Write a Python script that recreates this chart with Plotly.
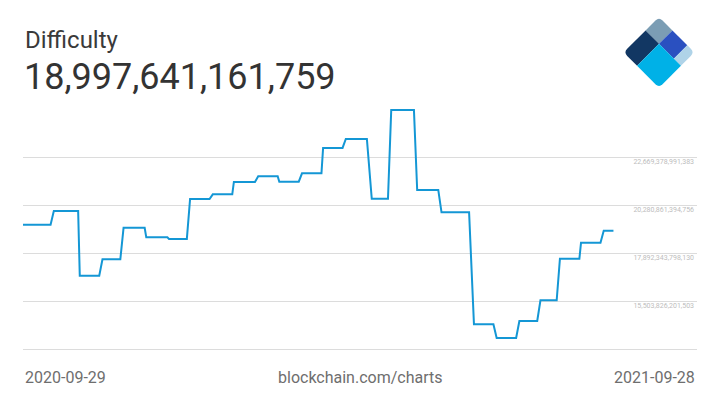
import plotly.graph_objects as go
import math

# ---- data ----
level_start = ["2020-09-29", "2020-10-18", "2020-11-03", "2020-11-17", "2020-11-30",
               "2020-12-14", "2020-12-28", "2021-01-10", "2021-01-24", "2021-02-06",
               "2021-02-21", "2021-03-06", "2021-03-20", "2021-04-02", "2021-04-16",
               "2021-05-02", "2021-05-14", "2021-05-30", "2021-06-14", "2021-07-04",
               "2021-07-18", "2021-08-01", "2021-08-14", "2021-08-26", "2021-09-08",
               "2021-09-22"]
level_end = ["2020-10-16", "2020-11-02", "2020-11-15", "2020-11-28", "2020-12-13",
             "2020-12-27", "2021-01-08", "2021-01-22", "2021-02-05", "2021-02-19",
             "2021-03-05", "2021-03-18", "2021-04-01", "2021-04-14", "2021-04-29",
             "2021-05-12", "2021-05-28", "2021-06-12", "2021-07-01", "2021-07-16",
             "2021-07-30", "2021-08-12", "2021-08-24", "2021-09-07", "2021-09-20",
             "2021-09-28"]
level_value = [19.30e12, 19.98e12, 16.76e12, 17.58e12, 19.15e12,
               18.67e12, 18.59e12, 20.58e12, 20.81e12, 21.43e12,
               21.71e12, 21.44e12, 21.86e12, 23.12e12, 23.565e12,
               20.594e12, 25.008e12, 21.03e12, 19.917e12, 14.344e12,
               13.662e12, 14.508e12, 15.538e12, 17.608e12, 18.405e12,
               18.997641161759e12]

tick_values = [15503826201503, 17892343798130, 20280861394756, 22669378991383]
axis_min = 13115308604876
title_text = "Difficulty"
current_value = "18,997,641,161,759"
date_first = "2020-09-29"
date_last = "2021-09-28"
source_text = "blockchain.com/charts"

# ---- build the step series ----
xs, ys = [], []
for s, e, v in zip(level_start, level_end, level_value):
    xs += [s, e]
    ys += [v, v]

# page has an 8px body margin: work in page pixels, shift into figure pixels
OFF = 8
W, H = 712, 389
PL, PR, PT, PB = 23, 697, 100, 349          # plot area in page pixels
ML, MT = PL - OFF, PT - OFF
MR = W - (PR - OFF)
MB = H - (PB - OFF)
plot_h = PB - PT
step = tick_values[1] - tick_values[0]
grid_px = 48
axis_max = axis_min + step * plot_h / grid_px


def px(x):
    return (x - PL) / (PR - PL)


def py(y):
    return (PB - y) / plot_h


fig = go.Figure()
fig.add_trace(go.Scatter(x=xs, y=ys, mode="lines",
                         line=dict(color="#1497d5", width=2),
                         hoverinfo="skip"))

fig.update_layout(
    width=W, height=H,
    margin=dict(l=ML, r=MR, t=MT, b=MB, pad=0),
    paper_bgcolor="white", plot_bgcolor="white",
    showlegend=False,
    font=dict(family="Roboto", color="#333333"),
    xaxis=dict(type="date", range=["2020-09-29", "2021-11-18 12:00"],
               showticklabels=False, showgrid=False, zeroline=False,
               showline=True, linecolor="#dcdcdc", linewidth=1, ticks=""),
    yaxis=dict(range=[axis_min, axis_max], side="right",
               tickvals=tick_values,
               ticktext=[f"{v:,}" for v in tick_values],
               ticklabelposition="inside bottom",
               tickfont=dict(size=7, color="#bdbdbd", family="Roboto"),
               showgrid=True, gridcolor="#dcdcdc", gridwidth=1,
               zeroline=False, showline=False, ticks=""),
)

ann = [
    dict(text=title_text, x=px(23), y=py(40), xanchor="left", yanchor="middle",
         font=dict(size=24, color="#3a3a3a")),
    dict(text=current_value, x=px(22), y=py(77), xanchor="left", yanchor="middle",
         font=dict(size=36, color="#333333")),
    dict(text=date_first, x=px(23), y=py(377), xanchor="left", yanchor="middle",
         font=dict(size=16, color="#6e6e6e")),
    dict(text=source_text, x=px(360), y=py(377), xanchor="center", yanchor="middle",
         font=dict(size=16, color="#6e6e6e")),
    dict(text=date_last, x=px(697), y=py(377), xanchor="right", yanchor="middle",
         font=dict(size=16, color="#6e6e6e")),
]
for a in ann:
    a.update(xref="paper", yref="paper", showarrow=False)
fig.update_layout(annotations=ann)

# ---- logo ----
r2 = math.sqrt(2)


def Ppix(u, v):
    return (659 + (u - v) / r2, 17 + (u + v) / r2)


def fmt(p):
    return f"{px(p[0]):.5f},{py(p[1]):.5f}"


def poly(corners, rounded, rad=5.0):
    n = len(corners)
    segs = []
    for i in range(n):
        c = corners[i]
        if rounded[i]:
            p, nx = corners[i - 1], corners[(i + 1) % n]
            dp = math.hypot(p[0] - c[0], p[1] - c[1])
            dn = math.hypot(nx[0] - c[0], nx[1] - c[1])
            a = (c[0] + (p[0] - c[0]) * rad / dp, c[1] + (p[1] - c[1]) * rad / dp)
            b = (c[0] + (nx[0] - c[0]) * rad / dn, c[1] + (nx[1] - c[1]) * rad / dn)
            segs.append(("L", a))
            segs.append(("Q", c, b))
        else:
            segs.append(("L", c))
    out = ""
    for k, s in enumerate(segs):
        if s[0] == "L":
            out += ("M " if k == 0 else " L ") + fmt(s[1])
        else:
            out += " Q " + fmt(s[1]) + " " + fmt(s[2])
    return out + " Z"


L, A, A2 = 50, 19, 40
pieces = [
    (0, A, 0, A, "#7b9db4", (True, False, False, False)),
    (A, A2, 0, A, "#2a50c0", (False, False, False, False)),
    (A2, L, 0, A, "#afd3e8", (False, True, False, False)),
    (0, A, A, L, "#123763", (False, False, False, True)),
    (A, L, A, L, "#00b1e7", (False, False, True, False)),
]
shapes = []
for u0, u1, v0, v1, c, rnd in pieces:
    corners = [Ppix(u0, v0), Ppix(u1, v0), Ppix(u1, v1), Ppix(u0, v1)]
    shapes.append(dict(type="path", path=poly(corners, rnd), xref="paper", yref="paper",
                       fillcolor=c, line=dict(width=0), layer="above"))
fig.update_layout(shapes=shapes)

fig.write_html("out.html", config={"displayModeBar": False})
